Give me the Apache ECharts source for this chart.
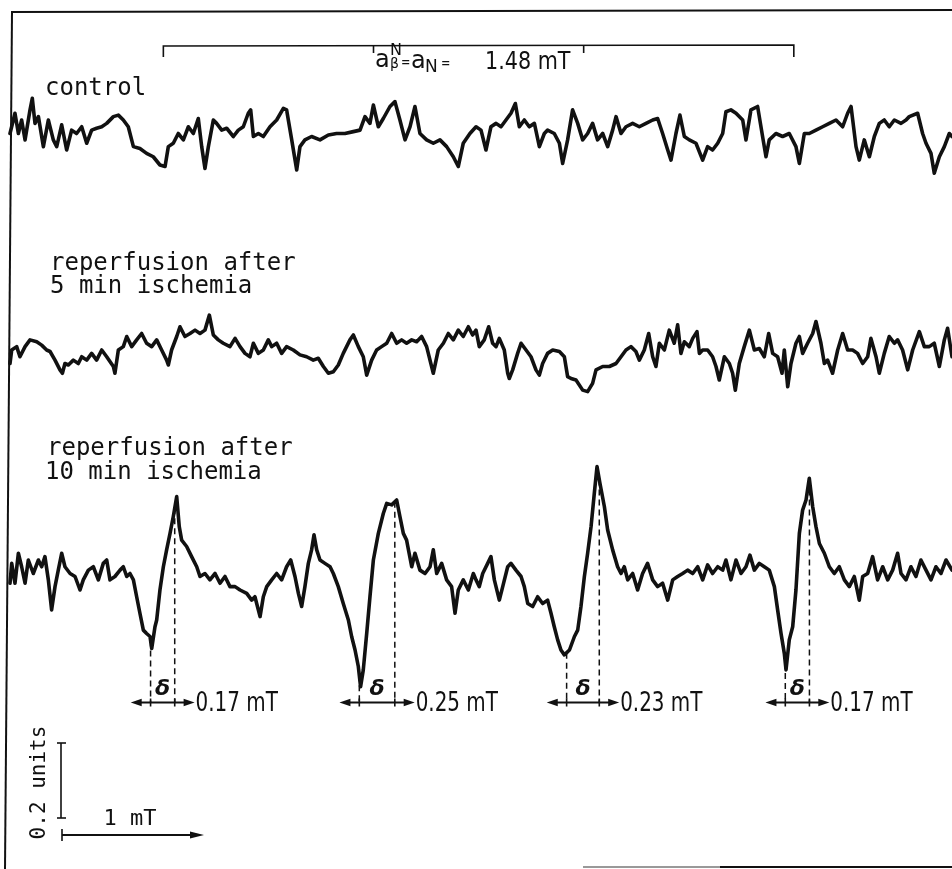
<!DOCTYPE html>
<html><head><meta charset="utf-8">
<script src="https://cdn.jsdelivr.net/npm/echarts@6/dist/echarts.min.js"></script>
<style>html,body{margin:0;padding:0;background:#fff}#c{width:952px;height:869px}</style>
</head><body><div id="c"></div>
<script>
// Field axis in mT (0 = left edge of the record), signal in arbitrary "units"
const controlField = [0,0.035,0.059,0.082,0.106,0.141,0.157,0.176,0.2,0.235,0.27,0.305,0.329,0.364,0.399,0.434,0.469,0.505,0.54,0.575,0.61,0.646,0.681,0.728,0.763,0.798,0.833,0.869,0.915,0.962,1.009,1.056,1.092,1.115,1.15,1.185,1.221,1.256,1.291,1.326,1.35,1.373,1.397,1.432,1.455,1.491,1.526,1.573,1.608,1.643,1.678,1.695,1.714,1.749,1.784,1.831,1.878,1.925,1.948,1.984,2.019,2.042,2.077,2.124,2.183,2.242,2.3,2.359,2.418,2.465,2.5,2.535,2.559,2.594,2.629,2.676,2.711,2.746,2.782,2.817,2.852,2.887,2.934,2.981,3.028,3.075,3.122,3.157,3.192,3.239,3.282,
3.317,3.352,3.387,3.423,3.458,3.493,3.528,3.559,3.587,3.622,3.657,3.693,3.728,3.763,3.786,3.833,3.869,3.892,3.927,3.962,3.998,4.033,4.068,4.103,4.138,4.174,4.209,4.244,4.268,4.303,4.338,4.385,4.432,4.479,4.526,4.561,4.596,4.632,4.655,4.69,4.718,4.749,4.784,4.831,4.878,4.913,4.948,4.984,5.019,5.042,5.077,5.113,5.16,5.183,5.218,5.265,5.3,5.324,5.347,5.394,5.441,5.488,5.535,5.559,5.594,5.629,5.676,5.723,5.77,5.817,5.864,5.899,5.923,5.958,5.981,6.016,6.052,6.087,6.122,6.157,6.192,6.228,6.275,6.31,6.333,6.392,6.427,6.451,6.486,6.509,6.545,6.58,6.615,6.634];
const controlSignal = [0.004,0.058,0.004,0.04,-0.013,0.067,0.098,0.031,0.049,-0.031,0.04,-0.013,-0.031,0.027,-0.04,0.013,0.004,0.022,-0.022,0.013,0.018,0.022,0.031,0.049,0.053,0.04,0.022,-0.031,-0.036,-0.049,-0.058,-0.08,-0.084,-0.031,-0.022,0.004,-0.013,0.022,0.004,0.044,-0.031,-0.089,-0.031,0.04,0.031,0.013,0.018,-0.004,0.013,0.022,0.058,0.067,-0.004,0.004,-0.004,0.022,0.04,0.071,0.067,-0.013,-0.093,-0.031,-0.013,-0.004,-0.013,0,0.004,0.004,0.009,0.013,0.049,0.031,0.08,0.022,0.044,0.076,0.089,0.04,-0.013,0.022,0.076,0.004,-0.013,-0.022,-0.013,-0.031,-0.058,-0.084,-0.022,0.004,0.022,
0.013,-0.04,0.022,0.031,0.022,0.04,0.058,0.084,0.022,0.04,0.022,0.031,-0.031,0.004,0.013,0.004,-0.022,-0.076,-0.013,0.067,0.031,-0.013,0.004,0.031,-0.013,0.004,-0.031,0.013,0.049,0.004,0.022,0.031,0.022,0.031,0.04,0.044,0.004,-0.04,-0.067,0.004,0.053,-0.004,-0.013,-0.022,-0.067,-0.031,-0.04,-0.022,0.004,0.062,0.067,0.058,0.04,-0.013,0.067,0.076,-0.004,-0.058,-0.013,0.004,-0.004,0.004,-0.031,-0.076,0.004,0.004,0.013,0.022,0.031,0.04,0.022,0.058,0.076,-0.031,-0.067,-0.013,-0.058,-0.004,0.031,0.04,0.022,0.04,0.031,0.04,0.049,0.058,0.004,-0.022,-0.049,-0.102,-0.058,-0.031,0.004,-0.004];

const isch5Field = [0,0.012,0.047,0.07,0.106,0.141,0.188,0.223,0.258,0.282,0.317,0.352,0.369,0.387,0.411,0.446,0.481,0.505,0.54,0.575,0.61,0.646,0.681,0.728,0.739,0.763,0.798,0.822,0.857,0.892,0.927,0.962,0.998,1.033,1.068,1.103,1.115,1.138,1.174,1.197,1.232,1.268,1.303,1.338,1.373,1.404,1.432,1.467,1.502,1.549,1.585,1.62,1.655,1.69,1.714,1.749,1.784,1.819,1.843,1.878,1.913,1.948,1.995,2.042,2.089,2.136,2.171,2.207,2.242,2.277,2.312,2.347,2.394,2.418,2.453,2.488,2.512,2.547,2.582,2.617,2.653,2.688,2.723,2.758,2.793,2.829,2.864,2.899,2.934,2.981,3.016,3.052,3.087,3.122,3.157,3.192,3.228,3.258,3.282,
3.305,3.34,3.371,3.399,3.423,3.446,3.481,3.505,3.516,3.54,3.575,3.599,3.634,3.669,3.704,3.728,3.751,3.786,3.822,3.869,3.904,3.927,3.951,3.986,4.033,4.068,4.103,4.127,4.174,4.221,4.268,4.303,4.338,4.373,4.408,4.432,4.467,4.498,4.526,4.549,4.573,4.608,4.643,4.678,4.702,4.725,4.749,4.784,4.808,4.838,4.855,4.878,4.913,4.948,4.972,4.995,5.031,5.066,5.089,5.108,5.136,5.171,5.207,5.242,5.277,5.312,5.343,5.371,5.406,5.437,5.453,5.477,5.5,5.535,5.559,5.582,5.617,5.653,5.676,5.711,5.735,5.758,5.793,5.829,5.864,5.899,5.934,5.969,6.005,6.04,6.063,6.099,6.122,6.157,6.192,6.228,6.251,6.286,6.322,6.357,6.404,6.439,6.474,6.509,6.545,6.58,6.603,6.634];
const isch5Signal = [-0.036,0,0.009,-0.018,0.009,0.027,0.022,0.013,0,-0.004,-0.027,-0.053,-0.062,-0.036,-0.04,-0.027,-0.036,-0.018,-0.027,-0.009,-0.027,0,-0.018,-0.044,-0.062,0,0.009,0.036,0.009,0.027,0.044,0.018,0.009,0.027,0,-0.027,-0.04,0,0.036,0.062,0.036,0.044,0.053,0.044,0.053,0.093,0.04,0.027,0.018,0.009,0.031,0.009,-0.009,-0.018,0.018,-0.009,0,0.027,0.009,0.018,-0.009,0.009,0,-0.013,-0.018,-0.027,-0.022,-0.044,-0.062,-0.058,-0.04,-0.009,0.027,0.04,0.009,-0.018,-0.067,-0.027,0,0.009,0.018,0.044,0.018,0.027,0.018,0.027,0.022,0.036,0.009,-0.062,0,0.018,0.044,0.027,0.053,0.036,0.062,0.04,0.053,
0.009,0.027,0.062,0.018,0.009,0.031,0,-0.062,-0.076,-0.053,-0.009,0.018,0,-0.018,-0.053,-0.067,-0.036,-0.009,0,-0.004,-0.018,-0.071,-0.076,-0.08,-0.107,-0.111,-0.089,-0.053,-0.044,-0.044,-0.036,-0.018,0,0.009,-0.004,-0.027,0,0.044,-0.018,-0.044,0.018,0,0.053,0.018,0.067,-0.009,0.022,0.009,0.031,0.049,-0.009,0,0,-0.018,-0.044,-0.08,-0.018,-0.036,-0.062,-0.107,-0.036,0.009,0.053,0,0.004,-0.018,0.044,-0.009,-0.018,-0.062,0,-0.098,-0.036,0.018,0.036,-0.009,0.018,0.044,0.076,0.018,-0.036,-0.027,-0.062,0,0.044,0,0,-0.009,-0.036,-0.018,0.031,-0.018,-0.062,-0.009,0.036,0.018,0.027,0,-0.053,0,0.049,0.009,0.009,0.018,-0.044,0.027,0.058,-0.018];

const isch10Field = [0,0.012,0.035,0.059,0.082,0.106,0.129,0.164,0.2,0.223,0.246,0.27,0.293,0.317,0.34,0.364,0.387,0.423,0.458,0.493,0.516,0.552,0.587,0.622,0.657,0.681,0.704,0.739,0.775,0.798,0.822,0.845,0.869,0.892,0.915,0.939,0.962,0.986,0.998,1.021,1.033,1.056,1.08,1.103,1.127,1.15,1.174,1.192,1.209,1.244,1.279,1.315,1.338,1.373,1.408,1.444,1.479,1.514,1.549,1.585,1.62,1.667,1.702,1.725,1.761,1.784,1.808,1.843,1.878,1.913,1.948,1.977,2.007,2.031,2.054,2.077,2.101,2.124,2.141,2.16,2.183,2.218,2.254,2.277,2.312,2.347,2.383,2.406,2.43,2.453,2.469,2.488,2.512,2.535,2.559,2.594,2.629,2.653,2.688,2.723,2.746,2.77,2.793,2.829,2.852,2.887,2.923,2.958,2.981,3.005,3.04,3.075,3.11,3.134,3.157,3.192,3.228,3.263,3.282,
3.305,3.329,3.364,3.387,3.411,3.446,3.47,3.505,3.528,3.563,3.599,3.622,3.646,3.681,3.716,3.751,3.786,3.81,3.833,3.857,3.88,3.904,3.94,3.975,3.998,4.021,4.045,4.068,4.092,4.115,4.134,4.155,4.186,4.209,4.244,4.279,4.303,4.326,4.35,4.385,4.42,4.455,4.49,4.526,4.561,4.596,4.632,4.667,4.702,4.737,4.772,4.808,4.843,4.878,4.913,4.948,4.984,5.019,5.042,5.077,5.113,5.148,5.183,5.211,5.242,5.277,5.312,5.347,5.383,5.406,5.43,5.453,5.465,5.488,5.512,5.535,5.559,5.582,5.606,5.629,5.653,5.676,5.7,5.735,5.77,5.805,5.84,5.876,5.911,5.946,5.981,6.005,6.04,6.075,6.11,6.146,6.181,6.216,6.251,6.275,6.31,6.345,6.38,6.415,6.451,6.486,6.521,6.556,6.592,6.634];
const isch10Signal = [-0.022,0.031,-0.022,0.058,0.022,-0.022,0.04,0.004,0.04,0.022,0.049,-0.013,-0.093,-0.031,0.013,0.058,0.022,0.004,-0.004,-0.04,-0.013,0.013,0.022,-0.013,0.031,0.04,-0.013,-0.004,0.013,0.022,-0.004,0.004,-0.013,-0.058,-0.102,-0.147,-0.156,-0.164,-0.196,-0.138,-0.12,-0.04,0.022,0.067,0.111,0.156,0.209,0.129,0.093,0.076,0.049,0.022,-0.004,0.004,-0.013,0.004,-0.022,-0.004,-0.031,-0.031,-0.04,-0.049,-0.067,-0.058,-0.111,-0.058,-0.031,-0.013,0.004,-0.013,0.022,0.04,-0.004,-0.049,-0.084,-0.031,0.031,0.067,0.107,0.067,0.04,0.031,0.022,0.004,-0.031,-0.076,-0.12,-0.164,-0.2,-0.244,-0.298,-0.253,-0.156,-0.058,0.04,0.111,0.164,0.191,0.187,0.2,0.156,0.111,0.093,0.022,0.058,0.013,0.004,0.022,0.067,0.004,0.031,-0.013,-0.031,-0.102,-0.04,-0.013,-0.04,0.004,-0.013,
-0.031,0.004,0.031,0.049,-0.013,-0.067,-0.031,0.022,0.031,0.013,-0.004,-0.031,-0.076,-0.084,-0.058,-0.076,-0.067,-0.102,-0.138,-0.173,-0.2,-0.213,-0.2,-0.164,-0.147,-0.084,-0.004,0.058,0.129,0.218,0.289,0.244,0.182,0.12,0.067,0.022,0.004,0.022,-0.013,0.004,-0.04,0.004,0.031,-0.013,-0.031,-0.022,-0.067,-0.013,-0.004,0.004,0.013,0.004,0.022,-0.013,0.027,0.004,0.022,0.013,0.04,-0.013,0.04,0.004,0.022,0.053,0.013,0.031,0.022,0.013,-0.031,-0.093,-0.156,-0.209,-0.253,-0.173,-0.138,-0.04,0.111,0.173,0.2,0.258,0.182,0.129,0.084,0.058,0.022,0.004,0.022,-0.013,-0.031,-0.004,-0.067,-0.004,0.004,0.049,-0.013,0.022,-0.013,0.013,0.058,0.004,-0.013,0.022,-0.004,0.04,0.013,-0.013,0.022,0.004,0.04,0.013];

const traceLabels = [['control'], ['reperfusion after', '5 min ischemia'], ['reperfusion after', '10 min ischemia']];
const hyperfineLines = [1.08, 2.56, 4.04, 5.52];            // a_N = 1.48 mT spacing
const hyperfineLabel = '1.48 mT';
const deltaTrough = [0.99, 2.46, 3.92, 5.46];
const deltaPeak   = [1.16, 2.71, 4.15, 5.63];
const deltaLabels = ['0.17 mT', '0.25 mT', '0.23 mT', '0.17 mT'];
const scaleUnits = 0.2, scaleField = 1;

const chart = echarts.init(document.getElementById('c'), null, {renderer: 'canvas'});
const mk = (f, s) => f.slice(0, Math.min(f.length, s.length)).map((x, i) => [x, s[i]]);
const traces = [mk(controlField, controlSignal), mk(isch5Field, isch5Signal), mk(isch10Field, isch10Signal)];
const hidden = {show: false};
const grids = [
  {left: 10, width: 942, top: 60, height: 150},
  {left: 10, width: 942, top: 275, height: 150},
  {left: 10, width: 942, top: 440, height: 281.25}
];
const yr = [[-0.2, 0.2], [-0.2, 0.2], [-0.39, 0.36]];
chart.setOption({
  animation: false,
  backgroundColor: '#fff',
  grid: grids,
  xAxis: grids.map((g, i) => ({type: 'value', gridIndex: i, min: 0, max: 6.634, show: false, splitLine: hidden})),
  yAxis: grids.map((g, i) => ({type: 'value', gridIndex: i, min: yr[i][0], max: yr[i][1], show: false, splitLine: hidden})),
  series: traces.map((d, i) => ({
    type: 'line', xAxisIndex: i, yAxisIndex: i, data: d, showSymbol: false, symbol: 'none', silent: true,
    lineStyle: {color: '#111', width: 3.6, join: 'round', cap: 'round'}
  }))
});

function px(i, x, y) { return chart.convertToPixel({xAxisIndex: i, yAxisIndex: i}, [x, y]); }
function interp(d, x) {
  for (let k = 1; k < d.length; k++) if (d[k][0] >= x) {
    const t = (x - d[k-1][0]) / (d[k][0] - d[k-1][0]); return d[k-1][1] + t * (d[k][1] - d[k-1][1]);
  }
  return d[d.length-1][1];
}
const INK = '#111';
const mono = "'DejaVu Sans Mono', monospace";
const narrow = "'DejaVu Sans Condensed', 'Liberation Sans', sans-serif";
const sans = "'DejaVu Sans', sans-serif";
const g = [];
const line = (pts, w, extra) => g.push({type: 'polyline', shape: {points: pts}, style: Object.assign({stroke: INK, lineWidth: w, fill: null}, extra || {}), silent: true});
const text = (t, x, y, font, opts, sx) => g.push({type: 'text', x: x, y: y, scaleX: sx || 1, style: Object.assign({text: t, font: font, fill: INK, textAlign: 'left', textVerticalAlign: 'middle'}, opts || {}), silent: true});

// frame
line([[11, 12], [952, 10]], 2);
line([[12, 12], [5, 869]], 2);
line([[583, 867], [720, 867]], 2, {stroke: '#999'});
line([[720, 867], [952, 867]], 2);

// hyperfine bracket
const hx = hyperfineLines.map(v => px(0, v, 0)[0]);
const by = 46;
line([[hx[0], by + 11], [hx[0], by], [hx[3], by - 1], [hx[3], by + 11]], 1.6);
line([[hx[1], by], [hx[1], by + 7]], 1.6);
line([[hx[2], by], [hx[2], by + 7]], 1.6);
text('a', 375, 61, '24px ' + sans);
text('N', 390, 51, '16px ' + sans);
text('β', 390, 64, '14px ' + sans);
text('=', 401, 63, '16px ' + sans, null, 0.7);
text('a', 411, 62, '24px ' + sans);
text('N', 425, 68, '17px ' + sans);
text('=', 441, 64, '16px ' + sans, null, 0.7);
text(hyperfineLabel, 485, 62, '25px ' + narrow, null, 0.92);

// trace labels
const labelPos = [[[45, 97]], [[50, 272], [50, 295]], [[47, 457], [45, 481]]];
traceLabels.forEach((lines, i) => lines.forEach((t, j) => text(t, labelPos[i][j][0], labelPos[i][j][1] - 8, '24px ' + mono)));

// delta markers on the 10 min trace
const arrowLevel = -0.34;
const ext = px(2, 0.14, 0)[0] - px(2, 0, 0)[0];
deltaTrough.forEach((tr, k) => {
  const pk = deltaPeak[k];
  const a = px(2, tr, arrowLevel), b = px(2, pk, arrowLevel);
  const ta = px(2, tr, interp(traces[2], tr)), tb = px(2, pk, interp(traces[2], pk));
  const y = a[1];
  line([[a[0], ta[1]], [a[0], y]], 1.5, {lineDash: [6, 4]});
  line([[b[0], tb[1]], [b[0], y]], 1.5, {lineDash: [6, 4]});
  const xl = a[0] - ext, xr = b[0] + ext;
  line([[xl + 6, y], [xr - 6, y]], 2.2);
  g.push({type: 'polygon', shape: {points: [[xl, y], [xl + 11, y - 3.8], [xl + 11, y + 3.8]]}, style: {fill: INK}, silent: true});
  g.push({type: 'polygon', shape: {points: [[xr, y], [xr - 11, y - 3.8], [xr - 11, y + 3.8]]}, style: {fill: INK}, silent: true});
  line([[a[0], y - 4], [a[0], y + 4]], 1.6);
  line([[b[0], y - 4], [b[0], y + 4]], 1.6);
  text('δ', (a[0] + b[0]) / 2, y - 13, 'italic bold 22px ' + sans, {textAlign: 'center'});
  text(deltaLabels[k], xr + 1, y + 1, '27px ' + narrow, null, 0.82);
});

// scale bars
const p0 = px(2, 0, 0), pU = px(2, 0, scaleUnits), pF = px(2, scaleField, 0);
const uLen = Math.abs(p0[1] - pU[1]), fLen = pF[0] - p0[0];
const sx = 61, sb = 818;
line([[sx, sb], [sx, sb - uLen]], 1.6);
line([[sx - 4, sb], [sx + 5, sb]], 1.6);
line([[sx - 4, sb - uLen], [sx + 5, sb - uLen]], 1.6);
g.push({type: 'text', x: 40, y: sb - uLen / 2 + 2, rotation: Math.PI / 2,
  style: {text: '0.2 units', font: '21px ' + mono, fill: INK, textAlign: 'center', textVerticalAlign: 'middle'}, silent: true});
const ay = 835, ax = 62;
line([[ax, ay - 6], [ax, ay + 6]], 1.6);
line([[ax, ay], [ax + fLen - 8, ay]], 2);
g.push({type: 'polygon', shape: {points: [[ax + fLen, ay], [ax + fLen - 14, ay - 3.5], [ax + fLen - 14, ay + 3.5]]}, style: {fill: INK}, silent: true});
text('1 mT', 130, 819, '22px ' + mono, {textAlign: 'center'});

chart.setOption({graphic: {elements: g}});
</script></body></html>
